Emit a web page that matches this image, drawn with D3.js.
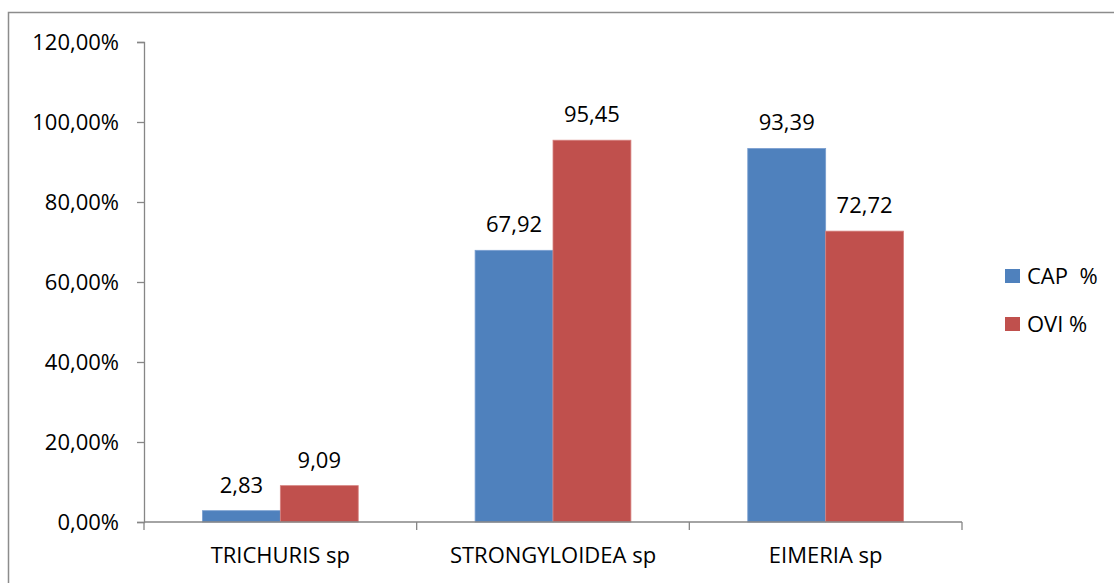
<!DOCTYPE html>
<html>
<head>
<meta charset="utf-8">
<script src="https://cdn.jsdelivr.net/npm/d3@7/dist/d3.min.js"></script>
<style>
  html, body { margin: 0; padding: 0; background: #fff; }
  svg { display: block; }
  text { font-family: "Open Sans", "Liberation Sans", sans-serif; fill: #000; white-space: pre; }
</style>
</head>
<body>
<svg id="chart" width="1114" height="583"></svg>
<script>
// Parasites and prevalence (%) for goats (CAP) and sheep (OVI)
const categories = ["TRICHURIS sp", "STRONGYLOIDEA sp", "EIMERIA sp"];
const seriesNames = ["CAP  %", "OVI %"];
const capValues = [2.83, 67.92, 93.39];
const oviValues = [9.09, 95.45, 72.72];
const valueLabels = [["2,83", "67,92", "93,39"], ["9,09", "95,45", "72,72"]];
const yTicks = [0, 20, 40, 60, 80, 100, 120];
const colors = ["#4F81BD", "#C0504D"];
const edgeColors = ["#7A9FD0", "#D68380"];

const series = [capValues, oviValues];

const svg = d3.select("#chart");
const fontSize = 22;

// Outer frame of the chart area
svg.append("rect")
  .attr("x", 8.5).attr("y", 12.5)
  .attr("width", 1200).attr("height", 700)
  .attr("fill", "none").attr("stroke", "#8c8c8c").attr("stroke-width", 1.5);

const x0 = d3.scaleBand().domain(categories).range([144, 962]).paddingInner(0).paddingOuter(0);
const x1 = d3.scaleBand().domain(d3.range(series.length))
  .range([0, x0.bandwidth()]).paddingInner(0).paddingOuter(0.75);
const y = d3.scaleLinear().domain([0, 120]).range([522, 42]);

// Y axis
const yAxis = d3.axisLeft(y).tickValues(yTicks).tickSize(7).tickPadding(18)
  .tickFormat(d => d3.format(".2f")(d).replace(".", ",") + "%");
const gy = svg.append("g").attr("transform", "translate(144,0)").call(yAxis);
gy.select(".domain").attr("stroke", "#868686").attr("stroke-width", 1.3);
gy.selectAll(".tick line").attr("stroke", "#868686").attr("stroke-width", 1.3);
gy.selectAll(".tick text").style("font-size", fontSize + "px")
  .style("font-family", "'Open Sans', sans-serif").attr("fill", "#000");

// Bars
categories.forEach((c, i) => {
  series.forEach((vals, s) => {
    const bx = x0(c) + x1(s);
    svg.append("rect")
      .attr("x", bx).attr("y", y(vals[i]))
      .attr("width", x1.bandwidth()).attr("height", y(0) - y(vals[i]))
      .attr("fill", colors[s]).attr("stroke", edgeColors[s]).attr("stroke-width", 0.8);
    svg.append("text")
      .attr("x", bx + x1.bandwidth() / 2).attr("y", y(vals[i]) - 18)
      .attr("text-anchor", "middle").style("font-size", fontSize + "px")
      .text(valueLabels[s][i]);
  });
});

// X axis
const xAxis = d3.axisBottom(x0).tickSize(0).tickPadding(25);
const gx = svg.append("g").attr("transform", "translate(0,522)").call(xAxis);
gx.select(".domain").remove();
gx.append("line").attr("x1", 144).attr("x2", 962).attr("y1", 0).attr("y2", 0)
  .attr("stroke", "#868686").attr("stroke-width", 1.3);
[144, ...categories.map(c => x0(c) + x0.bandwidth())].forEach(tx => {
  gx.append("line").attr("x1", tx).attr("x2", tx).attr("y1", 0).attr("y2", 8)
    .attr("stroke", "#868686").attr("stroke-width", 1.3);
});
gx.selectAll(".tick text").style("font-size", fontSize + "px")
  .style("font-family", "'Open Sans', sans-serif").attr("fill", "#000")
  .attr("dy", "0.71em");

// Legend
const legend = svg.append("g").attr("transform", "translate(1005,269)");
seriesNames.forEach((name, s) => {
  const g = legend.append("g").attr("transform", `translate(0,${s * 48})`);
  g.append("rect").attr("width", 15).attr("height", 14).attr("fill", colors[s]);
  g.append("text").attr("x", 22).attr("y", 7).attr("dy", "0.35em")
    .style("font-size", fontSize + "px").text(name);
});
</script>
</body>
</html>
